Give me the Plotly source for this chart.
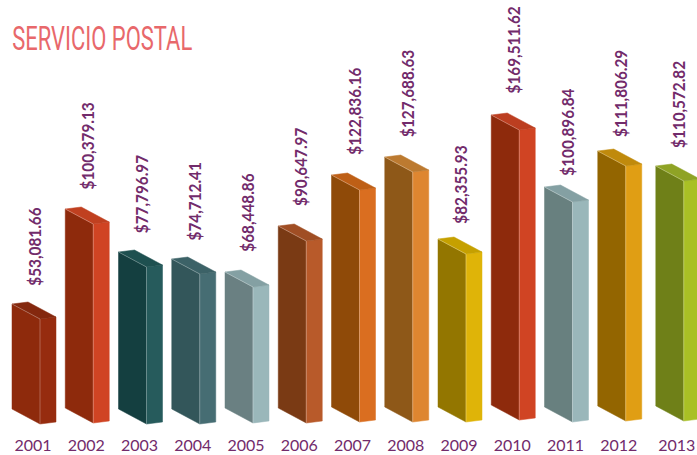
import plotly.graph_objects as go

years = [2001, 2002, 2003, 2004, 2005, 2006, 2007, 2008, 2009, 2010, 2011, 2012, 2013]
# position of each bar on the year axis (the last bar sits slightly apart in the picture)
year_pos = [2001, 2002, 2003, 2004, 2005, 2006, 2007, 2008, 2009, 2010, 2011, 2012, 2013.09]
# printed labels
labels = ["$53,081.66", "$100,379.13", "$77,796.97", "$74,712.41", "$68,448.86", "$90,647.97",
          "$122,836.16", "$127,688.63", "$82,355.93", "$169,511.62", "$100,896.84", "$111,806.29",
          "$110,572.82"]
# bar heights as drawn (thousands): the picture's bars are not strictly to scale with the labels
drawn_tops = [52, 99.5, 78, 74.5, 68, 91, 116.5, 125.5, 84.5, 146.5, 110.5, 128.5, 121]
drawn_bases = [-0.5, 0, -0.5, -0.5, 0, 0, 0.5, 0.5, 0.5, 1.5, 0.5, 1, 1]
label_gap = [18, 19, 19, 19, 20, 20, 20, 20, 15, 21, 11, 14, 18]

front = ["#8E2A0C", "#8E2A0C", "#143F40", "#33565A", "#6A8082", "#7A3A14", "#8F4A08", "#8E5818",
         "#937600", "#8E2A0C", "#68807F", "#936500", "#6F8018"]
side = ["#962C0F", "#D04423", "#265B5C", "#466D73", "#9AB7BA", "#B85A2A", "#DA6E20", "#DE8630",
        "#DFB408", "#D04423", "#9AB7BA", "#E09E14", "#A9C025"]
top = ["#84280E", "#C04020", "#1E5050", "#3C6267", "#84A0A3", "#A04E24", "#BE5F16", "#BC7A30",
       "#C5A000", "#BC3E20", "#84A0A3", "#C08A0C", "#8FA325"]

PX_X = 53.25   # px per year
PX_Y = 2.0     # px per thousand
W, H = 697, 455
PLOT_H = 432
dx_front, dy_front = 28 / PX_X, -15 / PX_Y
dx_back, dy_back = 16 / PX_X, 2 / PX_Y
left_off = -21 / PX_X

fig = go.Figure()


def face(xs, ys, color):
    fig.add_trace(go.Scatter(x=xs, y=ys, mode="lines", fill="toself", fillcolor=color,
                             line=dict(color=color, width=0.5), hoverinfo="skip", showlegend=False))


for i, yr in enumerate(year_pos):
    x0 = yr + left_off
    x1 = x0 + dx_front
    x2 = x1 + dx_back
    t, b = drawn_tops[i], drawn_bases[i]
    # front
    face([x0, x1, x1, x0, x0], [t, t + dy_front, b + dy_front, b, t], front[i])
    # side
    face([x1, x2, x2, x1, x1], [t + dy_front, t + dy_front + dy_back, b + dy_front + dy_back, b + dy_front,
                                t + dy_front], side[i])
    # top
    face([x0, x0 + dx_back, x2, x1, x0], [t, t + dy_back, t + dy_front + dy_back, t + dy_front, t], top[i])
    # light bevel on the shared edges
    fig.add_trace(go.Scatter(x=[x0, x1, x1], y=[t, t + dy_front, b + dy_front], mode="lines",
                             line=dict(color="rgba(255,255,255,0.35)", width=0.8),
                             hoverinfo="skip", showlegend=False))
    fig.add_annotation(x=yr, y=t, text=labels[i], textangle=-90, showarrow=False, xanchor="center",
                       yanchor="bottom", yshift=label_gap[i] - 6.5, xshift=1,
                       font=dict(family="Lato", size=17, color="#722B6B", weight="bold"))

fig.add_annotation(xref="paper", yref="paper", x=102 / W, y=1 - 38 / PLOT_H, text="SERVICIO POSTAL", showarrow=False,
                   xanchor="center", yanchor="middle",
                   font=dict(family="Roboto", size=33, color="#E8686B"))

fig.update_layout(
    width=W, height=H, margin=dict(l=0, r=0, t=0, b=H - PLOT_H),
    paper_bgcolor="white", plot_bgcolor="white", showlegend=False,
    xaxis=dict(range=[2001 - 33 / PX_X, 2001 + (W - 33) / PX_X], showgrid=False, zeroline=False, showline=False,
               tickmode="array", tickvals=year_pos, ticktext=[str(y) for y in years], ticks="", ticklabelstandoff=2,
               tickfont=dict(family="Lato", size=16, color="#722B6B")),
    yaxis=dict(range=[(408 - PLOT_H) / PX_Y, 408 / PX_Y], visible=False),
)
# the reference uses condensed faces: squeeze the real text to the measured widths
squeeze = """
document.body.style.margin='0';
document.querySelectorAll('.annotation-text').forEach(function(t){
  if (t.textContent === 'SERVICIO POSTAL') {
    t.setAttribute('textLength', '180');
  } else {
    t.setAttribute('textLength', String(t.getComputedTextLength() * 0.9));
  }
  t.setAttribute('lengthAdjust', 'spacingAndGlyphs');
});
"""
fig.write_html("out.html", post_script=squeeze, config=dict(displayModeBar=False))
